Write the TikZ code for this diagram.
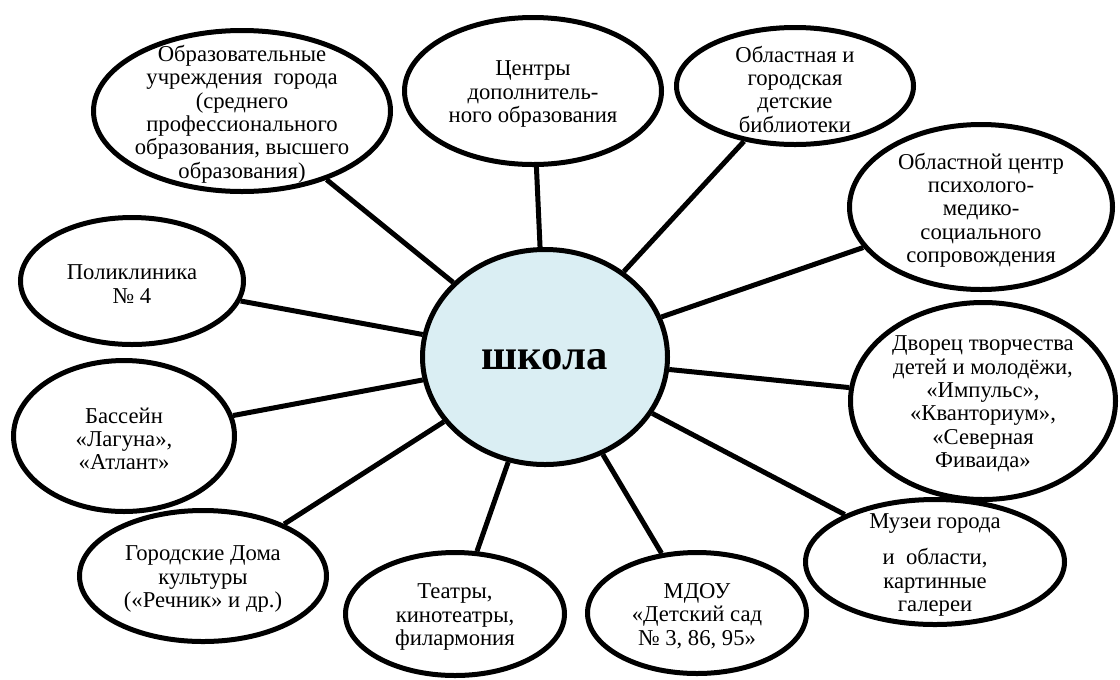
\documentclass[tikz,border=0pt]{standalone}
\usepackage{fontspec}
\setmainfont{Liberation Serif}
\newfontfamily\tnr{Liberation Serif}
\usetikzlibrary{shapes.geometric}
\definecolor{schoolblue}{RGB}{218,238,243}
\pgfdeclarelayer{bg}
\pgfsetlayers{bg,main}
\begin{document}
\begin{tikzpicture}[x=0.75pt,y=-0.75pt,
  bub/.style={ellipse,draw=black,line width=3.75pt,fill=white,inner sep=0pt},
  txt/.style={align=center,inner sep=0pt,font=\tnr\fontsize{17}{17.5}\selectfont},
  link/.style={line width=3.75pt}]
\useasboundingbox (0,0) rectangle (1120,679);
% central
\node[bub,fill=schoolblue,minimum width=183.75pt,minimum height=161.25pt] (school) at (545,357) {};
\node[inner sep=0pt,font=\tnr\fontsize{32}{36}\bfseries\selectfont] (schoolt) at (545,360) {школа};
% satellites
\node[bub,minimum width=222.75pt,minimum height=120.75pt] (edu) at (242,111) {};
\node[txt] (edut) at (242,114) {Образовательные\\учреждения\ \ города\\(среднего\\профессионального\\образования, высшего\\образования)};
\node[bub,minimum width=192.75pt,minimum height=110.25pt] (centers) at (533,91) {};
\node[txt] (centerst) at (533,94) {Центры\\дополнитель-\\ного образования};
\node[bub,minimum width=177.75pt,minimum height=87.75pt] (lib) at (795,86) {};
\node[txt] (libt) at (795,89) {Областная и\\городская\\детские\\библиотеки};
\node[bub,minimum width=197.25pt,minimum height=123.75pt] (psy) at (981,207) {};
\node[txt] (psyt) at (981,210) {Областной центр\\психолого-\\медико-\\социального\\сопровождения};
\node[bub,minimum width=198.75pt,minimum height=147.75pt] (palace) at (983,401) {};
\node[txt] (palacet) at (983,404) {Дворец творчества\\детей и молодёжи,\\«Импульс»,\\«Кванториум»,\\«Северная\\Фиваида»};
\node[bub,minimum width=194.25pt,minimum height=93.75pt] (museum) at (935,562) {};
\node[txt] (museumt) at (935,565) {Музеи города\\[9.5pt]и\ \ области,\\картинные\\галереи};
\node[bub,minimum width=164.25pt,minimum height=90.75pt] (mdou) at (697,613) {};
\node[txt] (mdout) at (697,616) {МДОУ\\«Детский сад\\№ 3, 86, 95»};
\node[bub,minimum width=164.25pt,minimum height=92.25pt] (theatre) at (455,614) {};
\node[txt] (theatret) at (455,617) {Театры,\\кинотеатры,\\филармония};
\node[bub,minimum width=185.25pt,minimum height=98.25pt] (culture) at (203,576) {};
\node[txt] (culturet) at (203,579) {Городские Дома\\культуры\\(«Речник» и др.)};
\node[bub,minimum width=165.75pt,minimum height=113.25pt] (pool) at (124,436) {};
\node[txt] (poolt) at (124,439) {Бассейн\\«Лагуна»,\\«Атлант»};
\node[bub,minimum width=167.25pt,minimum height=95.25pt] (clinic) at (132,281) {};
\node[txt] (clinict) at (132,284) {Поликлиника\\№ 4};
\begin{pgfonlayer}{bg}
\foreach \n in {edu,centers,lib,psy,palace,museum,mdou,theatre,culture,pool,clinic}
  \draw[link] (\n) -- (school);
\end{pgfonlayer}
\end{tikzpicture}
\end{document}
